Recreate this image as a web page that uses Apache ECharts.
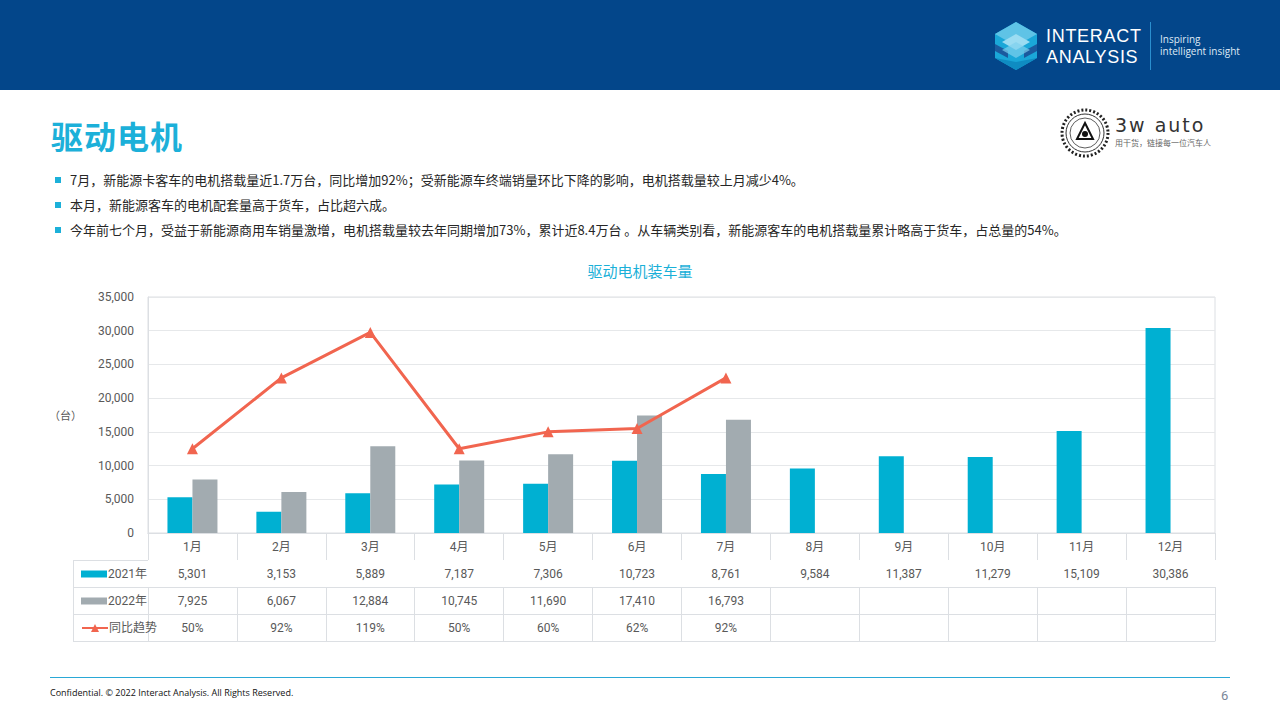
<!DOCTYPE html>
<html><head><meta charset="utf-8">
<script src="https://cdn.jsdelivr.net/npm/echarts@6/dist/echarts.min.js"></script>
<style>
html,body{margin:0;padding:0;width:1280px;height:720px;overflow:hidden;background:#fff;font-family:Roboto,"Noto Sans CJK SC",sans-serif;}
#hdr{position:absolute;left:0;top:0;width:1280px;height:90px;background:#03468a;}
.brand{position:absolute;left:1046px;font-size:18px;line-height:20px;font-weight:normal;color:#fff;font-family:"Liberation Sans",sans-serif;letter-spacing:0.7px;}
.tag{position:absolute;left:1160px;font-size:10px;line-height:11px;color:#dfe9f5;font-family:"Open Sans",sans-serif;}
#title{position:absolute;left:51px;top:112px;font-size:32px;font-weight:bold;color:#1cb0d9;font-family:"Noto Sans CJK SC",sans-serif;letter-spacing:1px;}
.b{position:absolute;left:70px;font-size:13px;color:#262626;font-family:"Noto Sans CJK SC",sans-serif;white-space:nowrap;}
.sq{position:absolute;left:55px;width:6px;height:6px;background:#1cb0d9;}
#chart{position:absolute;left:0;top:250px;width:1280px;height:410px;}
#fline{position:absolute;left:50px;top:677px;width:1180px;height:1px;background:#2aa8d6;}
#ftxt{position:absolute;left:50px;top:686px;font-size:9px;color:#111;font-family:"Open Sans",sans-serif;}
#pg{position:absolute;left:1221px;top:688px;font-size:13px;color:#7a8799;}
</style></head><body>
<div id="hdr">
<svg width="1280" height="90" style="position:absolute;left:0;top:0">
 <g transform="translate(1016,46)">
  <polygon points="0,-24 21,-12 21,12 0,24 -21,12 -21,-12" fill="#1aa7d8"/>
  <polygon points="-21,-12 0,-24 21,-12 0,0" fill="#5fc3e6"/>
  <polygon points="-14,-4 0,-12 14,-4 0,4" fill="#9bdcf2"/>
  <polygon points="-21,-2 -8,5 -8,12 -21,5" fill="#1b5a9e"/>
  <polygon points="21,-2 8,5 8,12 21,5" fill="#1b5a9e"/>
  <polygon points="-14,4 0,12 14,4 0,-4" fill="#7fd0ee" opacity="0.7"/>
  <polygon points="-21,12 0,24 21,12 0,16" fill="#0f8cc2"/>
 </g>
 <line x1="1150.5" y1="22" x2="1150.5" y2="70" stroke="#2a8fcf" stroke-width="1"/>
</svg>
<div class="brand" style="top:26px">INTERACT</div>
<div class="brand" style="top:47px">ANALYSIS</div>
<div class="tag" style="top:34px">Inspiring</div>
<div class="tag" style="top:46px">intelligent insight</div>
</div>
<svg width="170" height="60" style="position:absolute;left:1055px;top:104px">
 <circle cx="30" cy="29" r="23" fill="none" stroke="#222" stroke-width="3" stroke-dasharray="2 2"/>
 <circle cx="30" cy="29" r="19" fill="none" stroke="#333" stroke-width="1"/>
 <circle cx="30" cy="29" r="15" fill="none" stroke="#333" stroke-width="0.8"/>
 <polygon points="30,19 38,35 22,35" fill="none" stroke="#111" stroke-width="2"/>
 <circle cx="30" cy="30" r="3" fill="#111"/>
 <text x="60" y="28" font-size="19" fill="#333" font-family="DejaVu Sans, sans-serif" letter-spacing="2">3w auto</text>
 <text x="60" y="42" font-size="8" fill="#666" font-family="Noto Sans CJK SC, sans-serif">用干货，链接每一位汽车人</text>
</svg>
<div id="title">驱动电机</div>
<div class="sq" style="top:177px"></div><div class="b" style="top:170px">7月，新能源卡客车的电机搭载量近1.7万台，同比增加92%；受新能源车终端销量环比下降的影响，电机搭载量较上月减少4%。</div>
<div class="sq" style="top:202px"></div><div class="b" style="top:195px">本月，新能源客车的电机配套量高于货车，占比超六成。</div>
<div class="sq" style="top:227px"></div><div class="b" style="top:220px">今年前七个月，受益于新能源商用车销量激增，电机搭载量较去年同期增加73%，累计近8.4万台 。从车辆类别看，新能源客车的电机搭载量累计略高于货车，占总量的54%。</div>
<div id="chart"></div>
<div id="fline"></div>
<div id="ftxt">Confidential. © 2022 Interact Analysis. All Rights Reserved.</div>
<div id="pg">6</div>
<script>
const months = ['1月','2月','3月','4月','5月','6月','7月','8月','9月','10月','11月','12月'];
const v2021 = [5301,3153,5889,7187,7306,10723,8761,9584,11387,11279,15109,30386];
const v2022 = [7925,6067,12884,10745,11690,17410,16793,null,null,null,null,null];
const yoy = [50,92,119,50,60,62,92,null,null,null,null,null];
const yTicks = {min:0,max:35000,interval:5000};

const C1='#00b0d2', C2='#a2abb0', C3='#f1654f', GL='#dcdfe3', TX='#595959';
const fmt = v => v==null ? '' : v.toLocaleString('en-US');
const chart = echarts.init(document.getElementById('chart'), null, {renderer:'svg'});
function tableAxis(data, offset, showLabel){
  return {type:'category', position:'bottom', offset:offset, data:data, gridIndex:0,
    axisLine:{show:true, lineStyle:{color:GL, width:1}},
    axisTick:{show:showLabel, interval:0, length:27, lineStyle:{color:GL}},
    axisLabel:{show:showLabel, interval:0, margin:8, fontSize:12, color:TX, fontFamily:'Roboto, "Noto Sans CJK SC"'},
    splitLine:{show:false}};
}
const lx=73, rx=148, rows=[310,337,364,391];
const graphics=[];
rows.forEach(y=>graphics.push({type:'line', shape:{x1:lx,y1:y+0.5,x2:rx,y2:y+0.5}, style:{stroke:GL,lineWidth:1}}));
graphics.push({type:'line', shape:{x1:lx+0.5,y1:310,x2:lx+0.5,y2:391}, style:{stroke:GL,lineWidth:1}});
function leg(name, top, icon){
  return {data:[{name:name, icon:icon}], left:76, top:top, orient:'vertical', itemWidth:26, itemHeight:icon?7:10, itemGap:0,
    textStyle:{fontSize:12,color:TX,padding:[0,0,0,-4],fontFamily:'Roboto, "Noto Sans CJK SC"'}, selectedMode:false};
}
chart.setOption({
  animation:false,
  title:{text:'驱动电机装车量', left:'center', top:8, textStyle:{fontSize:15, fontWeight:'normal', color:'#1ab0d8', fontFamily:'"Noto Sans CJK SC"'}},
  grid:{left:148, right:65, top:47, height:236, show:true, borderColor:GL, borderWidth:1},
  legend:[leg('2021年',313,'rect'), leg('2022年',340,'rect'), leg('同比趋势',367)],
  xAxis:[
    tableAxis(months,0,true),
    tableAxis(v2021.map(fmt),27,true),
    tableAxis(v2022.map(fmt),54,true),
    tableAxis(yoy.map(v=>v==null?'':v+'%'),81,true),
    tableAxis(months.map(()=>''),108,false)
  ],
  yAxis:[
    {type:'value', min:yTicks.min, max:yTicks.max, interval:yTicks.interval,
     name:'（台）', nameLocation:'middle', nameRotate:0, nameGap:66, nameTextStyle:{fontSize:11,color:TX,fontFamily:'"Noto Sans CJK SC"'},
     axisLine:{show:true,lineStyle:{color:GL}}, axisTick:{show:false},
     axisLabel:{margin:14, fontSize:12, color:TX, formatter:v=>v.toLocaleString('en-US'), fontFamily:'Roboto'},
     splitLine:{lineStyle:{color:'#e6e8ea'}}},
    {type:'value', min:0, max:140, show:false, splitLine:{show:false}}
  ],
  series:[
    {name:'2021年', type:'bar', data:v2021, barWidth:25, barGap:'0%', itemStyle:{color:C1}},
    {name:'2022年', type:'bar', data:v2022, barWidth:25, barGap:'0%', itemStyle:{color:C2}},
    {name:'同比趋势', type:'line', yAxisIndex:1, data:yoy, symbol:'triangle', symbolSize:11,
     itemStyle:{color:C3}, lineStyle:{color:C3,width:3}, z:5}
  ],
  graphic:graphics
});
</script>
</body></html>
